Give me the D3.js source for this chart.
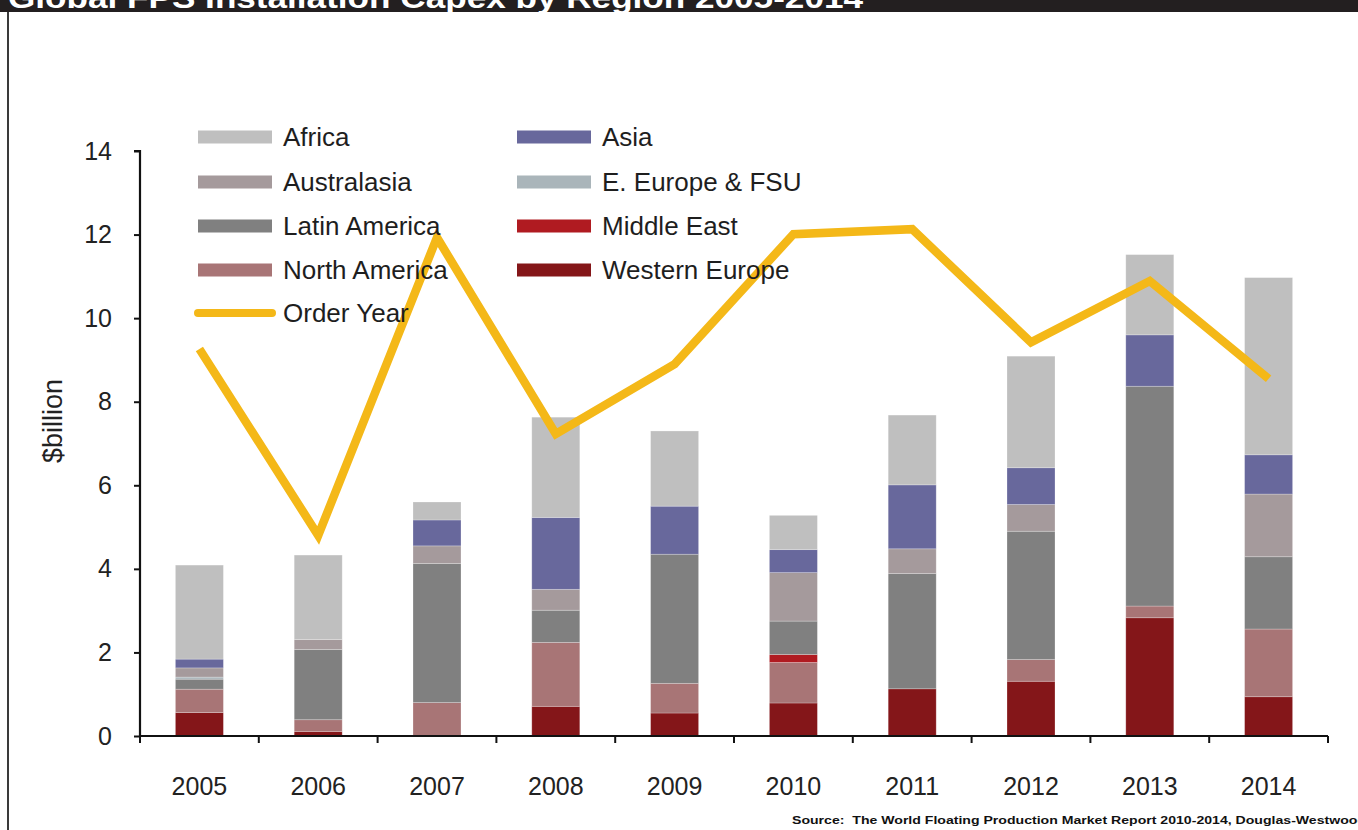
<!DOCTYPE html>
<html>
<head>
<meta charset="utf-8">
<script src="https://cdn.jsdelivr.net/npm/d3@7"></script>
<style>
  html, body { margin: 0; padding: 0; background: #fff; }
  svg { display: block; }
  text { font-family: "Liberation Sans", Arial, sans-serif; }
</style>
</head>
<body>
<svg id="chart" width="1358" height="830"></svg>
<script>
// Installation capex by region, $billion
const years = ["2005", "2006", "2007", "2008", "2009", "2010", "2011", "2012", "2013", "2014"];
const westernEurope = [0.56, 0.11, 0.00, 0.71, 0.55, 0.79, 1.13, 1.31, 2.83, 0.94];
const northAmerica  = [0.56, 0.28, 0.80, 1.53, 0.71, 0.97, 0.00, 0.52, 0.28, 1.62];
const middleEast    = [0.00, 0.00, 0.00, 0.00, 0.00, 0.19, 0.00, 0.00, 0.00, 0.00];
const latinAmerica  = [0.24, 1.68, 3.33, 0.77, 3.09, 0.80, 2.76, 3.07, 5.26, 1.73];
const eEuropeFSU    = [0.05, 0.00, 0.00, 0.00, 0.00, 0.00, 0.00, 0.00, 0.00, 0.00];
const australasia   = [0.22, 0.24, 0.42, 0.50, 0.00, 1.16, 0.59, 0.64, 0.00, 1.50];
const asia          = [0.21, 0.00, 0.62, 1.72, 1.15, 0.55, 1.53, 0.88, 1.23, 0.94];
const africa        = [2.25, 2.02, 0.43, 2.40, 1.80, 0.82, 1.67, 2.67, 1.92, 4.24];
// Order-year capex line
const orderYear     = [9.26, 4.80, 11.93, 7.23, 8.90, 12.01, 12.13, 9.42, 10.89, 8.55];
const yTicks = [0, 2, 4, 6, 8, 10, 12, 14];

// stacking order, bottom to top
const regions = [
  { key: "Western Europe",   values: westernEurope, color: "#841619" },
  { key: "North America",    values: northAmerica,  color: "#a87576" },
  { key: "Middle East",      values: middleEast,    color: "#b01b21" },
  { key: "Latin America",    values: latinAmerica,  color: "#808080" },
  { key: "E. Europe & FSU",  values: eEuropeFSU,    color: "#aab5ba" },
  { key: "Australasia",      values: australasia,   color: "#a59a9c" },
  { key: "Asia",             values: asia,          color: "#68689c" },
  { key: "Africa",           values: africa,        color: "#bfbfbf" }
];
const lineColor = "#f4b818";

const rows = years.map((yr, i) => {
  const r = { year: yr };
  regions.forEach(g => { r[g.key] = g.values[i]; });
  return r;
});

const svg = d3.select("#chart");
const W = 1358, H = 830;

// header strip
svg.append("rect").attr("x", 0).attr("y", 0).attr("width", W).attr("height", 12).attr("fill", "#231f20");
svg.append("text")
  .attr("x", 8).attr("y", 8)
  .attr("fill", "#fff")
  .attr("font-size", 29).attr("font-weight", "bold")
  .attr("textLength", 855).attr("lengthAdjust", "spacingAndGlyphs")
  .text("Global FPS Installation Capex by Region 2005-2014");
// frame edge on the left
svg.append("line").attr("x1", 8).attr("x2", 8).attr("y1", 12).attr("y2", H)
  .attr("stroke", "#3a3a3a").attr("stroke-width", 2);

const plotLeft = 140, plotRight = 1328, plotTop = 151, plotBottom = 736;
const pad = 0.596;
const x = d3.scaleBand().domain(years).range([plotLeft, plotRight]).paddingInner(pad).paddingOuter(pad / 2);
const y = d3.scaleLinear().domain([0, 14]).range([plotBottom, plotTop]);

const stack = d3.stack().keys(regions.map(g => g.key));
const series = stack(rows);

// bars
const g = svg.append("g");
series.forEach((s, si) => {
  g.append("g").attr("fill", regions[si].color)
    .selectAll("rect").data(s).join("rect")
    .attr("x", d => x(d.data.year))
    .attr("width", x.bandwidth())
    .attr("y", d => y(d[1]))
    .attr("height", d => Math.max(0, y(d[0]) - y(d[1])))
    .attr("stroke", d => (d[1] - d[0]) > 0 ? "rgba(255,255,255,0.3)" : "none")
    .attr("stroke-width", 0.8);
});

// y axis
const yAxis = d3.axisLeft(y).tickValues(yTicks).tickSize(6).tickPadding(22).tickFormat(d3.format("d"));
const ya = svg.append("g").attr("transform", `translate(${plotLeft},0)`).call(yAxis);
ya.select(".domain").attr("stroke", "#111").attr("stroke-width", 2.2).attr("d", `M-6,${plotTop}H0V${plotBottom}`);
ya.selectAll(".tick line").attr("stroke", "#111").attr("stroke-width", 2);
ya.selectAll(".tick text").attr("font-size", 25).attr("fill", "#222")
  .attr("font-family", "'Liberation Sans', Arial, sans-serif");

// x axis: ticks sit on the band boundaries
const step = x.step();
const boundaries = d3.range(years.length + 1).map(i => plotLeft + i * step);
const xa = svg.append("g");
xa.append("line").attr("x1", plotLeft - 1).attr("x2", plotRight).attr("y1", plotBottom).attr("y2", plotBottom)
  .attr("stroke", "#111").attr("stroke-width", 2.2);
xa.selectAll("line.tk").data(boundaries).join("line").attr("class", "tk")
  .attr("x1", d => d).attr("x2", d => d).attr("y1", plotBottom).attr("y2", plotBottom + 7)
  .attr("stroke", "#111").attr("stroke-width", 2);
xa.selectAll("text").data(years).join("text")
  .attr("x", d => x(d) + x.bandwidth() / 2).attr("y", 795)
  .attr("text-anchor", "middle").attr("font-size", 25).attr("fill", "#222")
  .text(d => d);

// axis title
svg.append("text")
  .attr("transform", "translate(62,421) rotate(-90)")
  .attr("text-anchor", "middle").attr("font-size", 27).attr("fill", "#222")
  .text("$billion");

// order-year line
const line = d3.line().x((d, i) => x(years[i]) + x.bandwidth() / 2).y(d => y(d));
svg.append("path").datum(orderYear)
  .attr("d", line).attr("fill", "none")
  .attr("stroke", lineColor).attr("stroke-width", 8.5)
  .attr("stroke-linejoin", "miter").attr("stroke-linecap", "butt");

// legend
const legendItems = [
  { label: "Africa",          color: "#bfbfbf", col: 0, row: 0 },
  { label: "Asia",            color: "#68689c", col: 1, row: 0 },
  { label: "Australasia",     color: "#a59a9c", col: 0, row: 1 },
  { label: "E. Europe & FSU", color: "#aab5ba", col: 1, row: 1 },
  { label: "Latin America",   color: "#808080", col: 0, row: 2 },
  { label: "Middle East",     color: "#b01b21", col: 1, row: 2 },
  { label: "North America",   color: "#a87576", col: 0, row: 3 },
  { label: "Western Europe",  color: "#841619", col: 1, row: 3 },
  { label: "Order Year",      color: lineColor, col: 0, row: 4, line: true }
];
const colX = [198, 517];
const rowY = [137, 182, 226, 270, 313];
const lg = svg.append("g");
legendItems.forEach(it => {
  const lx = colX[it.col], ly = rowY[it.row];
  if (it.line) {
    lg.append("line").attr("x1", lx).attr("x2", lx + 74).attr("y1", ly).attr("y2", ly)
      .attr("stroke", it.color).attr("stroke-width", 8).attr("stroke-linecap", "round");
  } else {
    lg.append("rect").attr("x", lx).attr("y", ly - 6.5).attr("width", 74).attr("height", 13).attr("fill", it.color);
  }
  lg.append("text").attr("x", lx + 85).attr("y", ly + 9)
    .attr("font-size", 26).attr("fill", "#1e1e1e").text(it.label);
});

// source note
svg.append("text")
  .attr("x", 792).attr("y", 824)
  .attr("font-size", 11.5).attr("font-weight", "bold").attr("fill", "#111")
  .attr("textLength", 574).attr("lengthAdjust", "spacingAndGlyphs")
  .attr("xml:space", "preserve")
  .text("Source:  The World Floating Production Market Report 2010-2014, Douglas-Westwood");
</script>
</body>
</html>
